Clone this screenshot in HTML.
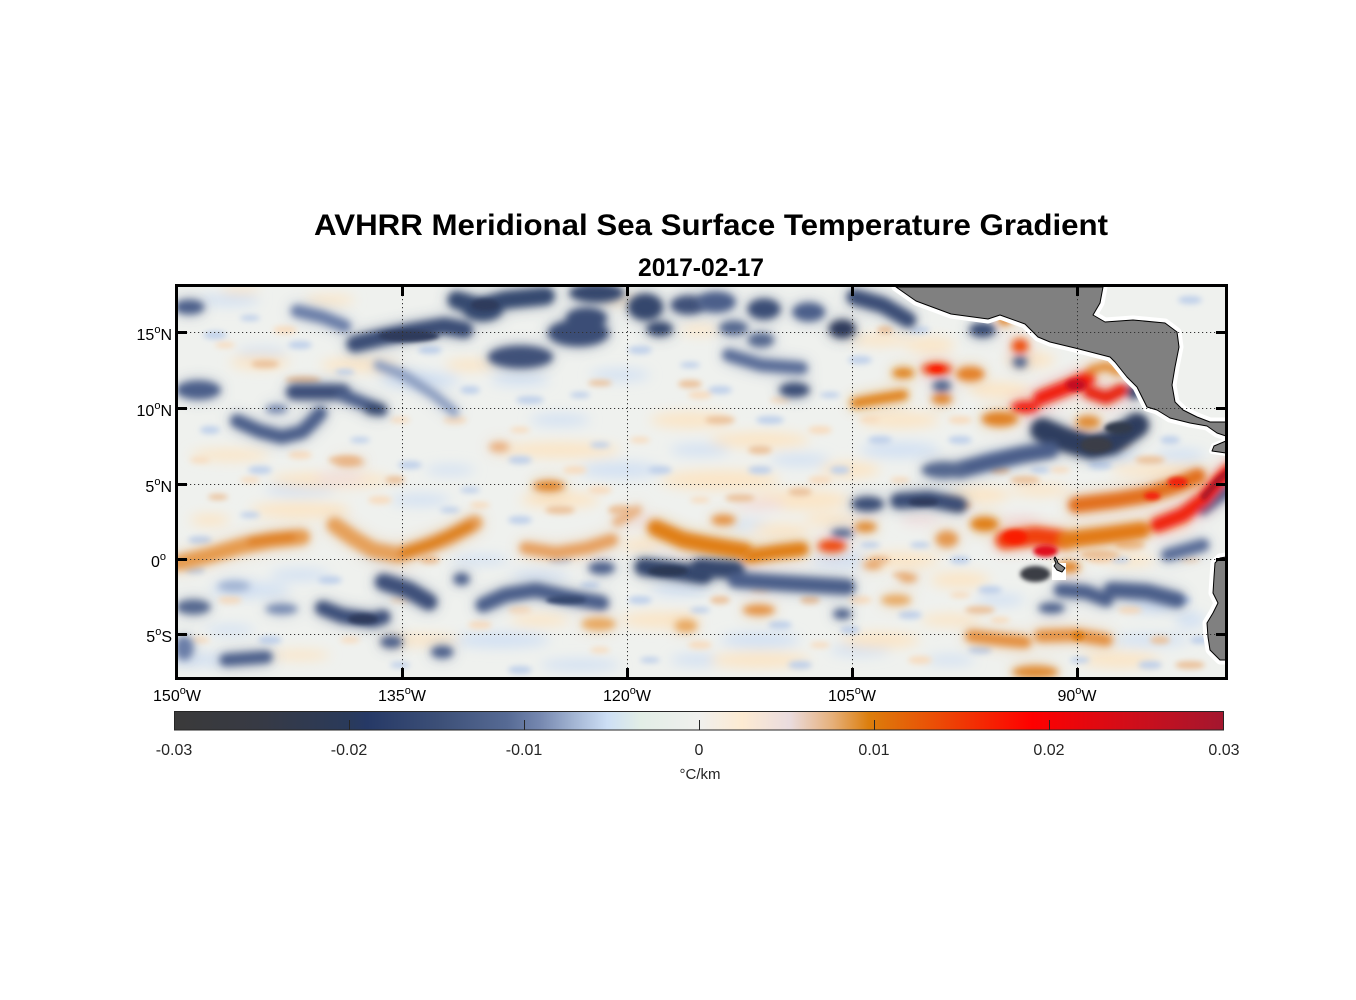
<!DOCTYPE html>
<html><head><meta charset="utf-8">
<style>html,body{margin:0;padding:0;background:#fff;}svg{display:block}</style></head>
<body>
<svg width="1356" height="1000" viewBox="0 0 1356 1000" xmlns="http://www.w3.org/2000/svg" xmlns:xlink="http://www.w3.org/1999/xlink" font-family="'Liberation Sans', Arial, sans-serif">
<defs>
<clipPath id="pc"><rect x="178" y="287" width="1048" height="390"/></clipPath>
<filter id="b9" filterUnits="userSpaceOnUse" x="120" y="240" width="1160" height="500"><feGaussianBlur stdDeviation="8"/></filter>
<filter id="b6" filterUnits="userSpaceOnUse" x="120" y="240" width="1160" height="500"><feGaussianBlur stdDeviation="6"/></filter>
<filter id="b4" filterUnits="userSpaceOnUse" x="120" y="240" width="1160" height="500"><feGaussianBlur stdDeviation="3.8"/></filter>
<filter id="b3" filterUnits="userSpaceOnUse" x="120" y="240" width="1160" height="500"><feGaussianBlur stdDeviation="3"/></filter>
<filter id="b2" filterUnits="userSpaceOnUse" x="120" y="240" width="1160" height="500"><feGaussianBlur stdDeviation="2.2"/></filter>
<linearGradient id="cb" gradientUnits="userSpaceOnUse" x1="174" y1="0" x2="1224" y2="0">
<stop offset="0" stop-color="#3a3a3a"/>
<stop offset="0.079" stop-color="#373a44"/>
<stop offset="0.165" stop-color="#2a3a5a"/>
<stop offset="0.184" stop-color="#263966"/>
<stop offset="0.254" stop-color="#3d5078"/>
<stop offset="0.317" stop-color="#566a94"/>
<stop offset="0.349" stop-color="#7688b0"/>
<stop offset="0.381" stop-color="#a3b5d3"/>
<stop offset="0.413" stop-color="#cddff5"/>
<stop offset="0.444" stop-color="#e2eee6"/>
<stop offset="0.5" stop-color="#f0f0ee"/>
<stop offset="0.541" stop-color="#fdebd2"/>
<stop offset="0.586" stop-color="#eadcdf"/>
<stop offset="0.627" stop-color="#e6b07a"/>
<stop offset="0.662" stop-color="#dc7e0c"/>
<stop offset="0.722" stop-color="#ea5006"/>
<stop offset="0.817" stop-color="#ff0000"/>
<stop offset="0.913" stop-color="#cf0e1a"/>
<stop offset="1" stop-color="#a3172f"/>
</linearGradient>

<!-- LEFT features -->
<g id="gL" transform="matrix(1.016,0,0,1,-2.8,0)" fill="none" stroke-linecap="round" stroke-linejoin="round">
<ellipse cx="189" cy="307" rx="15" ry="7" fill="#4c5f8a"/>
<path d="M295,311 L320,317 L342,326" stroke="#6a7ea8" stroke-width="12"/>
<path d="M352,344 L380,337 L410,331 L440,326 L460,330" stroke="#3b4d76" stroke-width="16"/>
<path d="M452,300 L475,307 L500,300 L540,296" stroke="#36486f" stroke-width="17"/>
<ellipse cx="478" cy="309" rx="20" ry="12" fill="#36486f"/>
<ellipse cx="515" cy="357" rx="32" ry="11" fill="#3f5179"/>
<ellipse cx="572" cy="333" rx="30" ry="13" fill="#3b4d76"/>
<ellipse cx="580" cy="318" rx="20" ry="10" fill="#3b4d76"/>
<ellipse cx="590" cy="293" rx="27" ry="9" fill="#34466d"/>
<ellipse cx="638" cy="307" rx="17" ry="13" fill="#34466d"/>
<ellipse cx="652" cy="329" rx="13" ry="7" fill="#34466d"/>
<ellipse cx="680" cy="305" rx="17" ry="9" fill="#3f5179"/>
<ellipse cx="198" cy="390" rx="22" ry="9" fill="#4c5f8a"/>
<path d="M292,392 L340,392" stroke="#3e5079" stroke-width="15"/>
<path d="M340,395 L365,405 L378,410" stroke="#4c5f8a" stroke-width="12"/>
<ellipse cx="372" cy="409" rx="11" ry="6" fill="#34466d"/>
<path d="M236,421 L258,431 L280,437 L300,432 L310,422 L318,413" stroke="#4c5f8a" stroke-width="13"/>
<ellipse cx="275" cy="409" rx="11" ry="4" fill="#6a7ea8"/>
<path d="M375,365 L400,375 L430,395 L450,412" stroke="#8a9cc0" stroke-width="9"/>
<path d="M380,582 L405,590 L425,602" stroke="#3e5079" stroke-width="16"/>
<path d="M320,608 L340,616 L370,620 L380,617" stroke="#3e5079" stroke-width="14"/>
<ellipse cx="193" cy="607" rx="17" ry="7" fill="#55688f"/>
<path d="M225,660 L265,657" stroke="#4c5f8a" stroke-width="12"/>
<ellipse cx="184" cy="648" rx="9" ry="12" fill="#6a7ea8"/>
<path d="M478,605 L500,595 L530,590 L560,597 L595,603" stroke="#4c5f8a" stroke-width="14"/>
<path d="M636,567 L660,570 L695,575" stroke="#34466d" stroke-width="17"/>
<ellipse cx="595" cy="568" rx="13" ry="6" fill="#4c5f8a"/>
<ellipse cx="457" cy="579" rx="8" ry="6" fill="#4c5f8a"/>
<ellipse cx="388" cy="642" rx="11" ry="6" fill="#4c5f8a"/>
<ellipse cx="438" cy="652" rx="11" ry="6" fill="#4c5f8a"/>
<ellipse cx="280" cy="609" rx="16" ry="5" fill="#7588b0"/>
<ellipse cx="233" cy="586" rx="16" ry="5" fill="#a0b2d2"/>
<path d="M178,563 L210,555 L240,546 L270,540 L300,537" stroke="#e69b50" stroke-width="15"/>
<path d="M250,541 L290,537" stroke="#df8020" stroke-width="9"/>
<path d="M332,525 L350,538 L370,550 L395,555 L420,547 L445,537 L470,523" stroke="#e6a05a" stroke-width="15"/>
<path d="M400,553 L430,543 L465,526" stroke="#dd8018" stroke-width="10"/>
<path d="M520,548 L550,553 L580,548 L605,540" stroke="#e6a060" stroke-width="12"/>
<path d="M610,522 L630,510" stroke="#e8b080" stroke-width="9"/>
<path d="M648,528 L675,540 L700,545 L735,551" stroke="#e07f18" stroke-width="16"/>
<ellipse cx="543" cy="486" rx="16" ry="5" fill="#df8020"/>
<ellipse cx="494" cy="447" rx="10" ry="5" fill="#eab080"/>
<ellipse cx="347" cy="462" rx="15" ry="4" fill="#e8b080"/>
<ellipse cx="592" cy="624" rx="17" ry="6" fill="#e8a860"/>
<ellipse cx="678" cy="626" rx="11" ry="6" fill="#e8a860"/>
</g>
<g id="cL" transform="matrix(1.016,0,0,1,-2.8,0)">
<ellipse cx="360" cy="619" rx="15" ry="5" fill="#2e3b5c"/>
<ellipse cx="405" cy="336" rx="30" ry="6" fill="#2e3b5c"/>
<ellipse cx="660" cy="571" rx="20" ry="5" fill="#2c3753"/>
<ellipse cx="560" cy="600" rx="20" ry="4" fill="#34466d"/>
<ellipse cx="480" cy="305" rx="14" ry="6" fill="#2e3b5c"/>
</g>

<!-- RIGHT features -->
<g id="gR" transform="matrix(1.016,0,0,1,-11.2,0)" fill="none" stroke-linecap="round" stroke-linejoin="round">
<ellipse cx="716" cy="302" rx="19" ry="10" fill="#4c5f8a"/>
<ellipse cx="763" cy="309" rx="16" ry="10" fill="#3b4d76"/>
<ellipse cx="807" cy="312" rx="16" ry="9" fill="#4c5f8a"/>
<path d="M852,297 L880,305 L905,320" stroke="#3b4d76" stroke-width="15"/>
<ellipse cx="840" cy="329" rx="13" ry="9" fill="#2e3b5c"/>
<ellipse cx="733" cy="328" rx="14" ry="7" fill="#55688f"/>
<ellipse cx="760" cy="340" rx="13" ry="7" fill="#55688f"/>
<path d="M728,355 L760,365 L800,368" stroke="#5a6d98" stroke-width="12"/>
<ellipse cx="793" cy="390" rx="15" ry="7" fill="#3b4d76"/>
<ellipse cx="978" cy="330" rx="13" ry="7" fill="#3b4d76"/>
<ellipse cx="938" cy="386" rx="9" ry="6" fill="#55688f"/>
<ellipse cx="1015" cy="362" rx="7" ry="6" fill="#55688f"/>
<path d="M1037,430 L1060,440 L1085,447 L1105,443 L1130,425" stroke="#2f3d5e" stroke-width="23"/>
<path d="M955,470 L985,462 L1015,455 L1045,450" stroke="#4c5f8a" stroke-width="16"/>
<ellipse cx="940" cy="470" rx="22" ry="8" fill="#55688f"/>
<ellipse cx="1127" cy="392" rx="7" ry="7" fill="#34466d"/>
<ellipse cx="865" cy="504" rx="16" ry="7" fill="#3b4d76"/>
<path d="M895,501 L925,499 L955,505" stroke="#3b4d76" stroke-width="15"/>
<ellipse cx="840" cy="533" rx="11" ry="4" fill="#4c5f8a"/>
<path d="M700,568 L735,570" stroke="#34466d" stroke-width="17"/>
<path d="M735,580 L780,583 L845,587" stroke="#4c5f8a" stroke-width="15"/>
<path d="M1055,590 L1080,592 L1100,600" stroke="#4c5f8a" stroke-width="13"/>
<path d="M1105,590 L1140,592 L1170,600" stroke="#4c5f8a" stroke-width="15"/>
<path d="M1160,555 L1195,545" stroke="#5a6d98" stroke-width="12"/>
<path d="M1195,510 L1220,490" stroke="#4c5f8a" stroke-width="10"/>
<ellipse cx="1046" cy="608" rx="13" ry="5" fill="#4c5f8a"/>
<ellipse cx="840" cy="614" rx="9" ry="5" fill="#4c5f8a"/>
<path d="M750,556 L775,552 L800,549" stroke="#e07f18" stroke-width="14"/>
<ellipse cx="830" cy="546" rx="14" ry="6" fill="#ee4a0a"/>
<ellipse cx="723" cy="520" rx="12" ry="5" fill="#e49040"/>
<path d="M853,403 L875,399 L900,395" stroke="#e08018" stroke-width="10"/>
<ellipse cx="900" cy="373" rx="11" ry="5" fill="#e08018"/>
<ellipse cx="933" cy="369" rx="15" ry="6" fill="#f04010"/>
<ellipse cx="966" cy="374" rx="14" ry="7" fill="#e48028"/>
<ellipse cx="938" cy="399" rx="10" ry="5" fill="#e08020"/>
<ellipse cx="1015" cy="346" rx="8" ry="7" fill="#ee5010"/>
<ellipse cx="1000" cy="320" rx="7" ry="5" fill="#e08020"/>
<ellipse cx="995" cy="419" rx="18" ry="7" fill="#e08020"/>
<ellipse cx="1020" cy="407" rx="14" ry="6" fill="#f01a08"/>
<path d="M1035,398 L1060,388 L1082,378" stroke="#f01a08" stroke-width="14"/>
<path d="M1083,392 L1100,398 L1115,390" stroke="#e8200a" stroke-width="12"/>
<path d="M1085,370 L1100,366 L1112,372" stroke="#e28a30" stroke-width="8"/>
<ellipse cx="1082" cy="422" rx="12" ry="6" fill="#e08a30"/>
<path d="M1000,540 L1030,536 L1060,540" stroke="#f04008" stroke-width="18"/>
<path d="M1060,540 L1100,535 L1135,530" stroke="#e27a18" stroke-width="16"/>
<path d="M1070,505 L1110,500 L1140,495 L1170,485 L1190,476" stroke="#e2701a" stroke-width="15"/>
<path d="M1150,525 L1175,515 L1195,500 L1212,480 L1222,470" stroke="#f0200a" stroke-width="14"/>
<ellipse cx="980" cy="524" rx="14" ry="7" fill="#e07f18"/>
<path d="M1035,636 L1070,635 L1100,640" stroke="#e49040" stroke-width="12"/>
<path d="M967,636 L1000,640 L1020,642" stroke="#e49040" stroke-width="12"/>
<ellipse cx="1030" cy="672" rx="23" ry="6" fill="#e08a30"/>
<ellipse cx="758" cy="610" rx="16" ry="5" fill="#e49040"/>
<ellipse cx="893" cy="600" rx="15" ry="5" fill="#e8a860"/>
<ellipse cx="863" cy="527" rx="11" ry="5" fill="#e08a30"/>
<ellipse cx="943" cy="539" rx="11" ry="8" fill="#e49850"/>
<ellipse cx="1063" cy="567" rx="11" ry="5" fill="#e08020"/>
<ellipse cx="870" cy="565" rx="9" ry="4" fill="#e6a060"/>
<ellipse cx="905" cy="578" rx="9" ry="4" fill="#e6a060"/>
</g>
<g id="cR" transform="matrix(1.016,0,0,1,-11.2,0)" fill="none" stroke-linecap="round">
<ellipse cx="1090" cy="445" rx="16" ry="8" fill="#3a3d47"/>
<ellipse cx="1112" cy="428" rx="14" ry="6" fill="#333a4c"/>
<ellipse cx="1030" cy="574" rx="15" ry="8" fill="#3a3c44"/>
<ellipse cx="920" cy="502" rx="15" ry="4" fill="#2e3b5c"/>
<ellipse cx="1070" cy="385" rx="10" ry="6" fill="#c41020"/>
<ellipse cx="1010" cy="537" rx="12" ry="7" fill="#fa1a06"/>
<ellipse cx="1040" cy="551" rx="12" ry="6" fill="#e0101a"/>
<path d="M1196,497 L1210,480 L1220,472" stroke="#a8152c" stroke-width="6"/>
<ellipse cx="1170" cy="482" rx="10" ry="5" fill="#f02008"/>
<ellipse cx="1145" cy="496" rx="8" ry="4" fill="#f42008"/>
<ellipse cx="933" cy="369" rx="7" ry="3" fill="#ff1800"/>
<ellipse cx="1072" cy="636" rx="6" ry="4" fill="#dc7a10"/>
</g>
</defs>

<!-- Titles -->
<text x="314" y="235" font-size="30" font-weight="bold" fill="#000" textLength="794" lengthAdjust="spacingAndGlyphs">AVHRR Meridional Sea Surface Temperature Gradient</text>
<text x="638" y="276" font-size="25" font-weight="bold" fill="#000" textLength="126" lengthAdjust="spacingAndGlyphs">2017-02-17</text>

<!-- Map -->
<g clip-path="url(#pc)">
<rect x="178" y="287" width="1048" height="390" fill="#eff1ee"/>

<!-- haze -->
<g filter="url(#b6)">
<g fill="#d3e1f3">
<ellipse cx="230" cy="300" rx="30" ry="6"/><ellipse cx="262" cy="352" rx="25" ry="5"/><ellipse cx="420" cy="380" rx="40" ry="8"/><ellipse cx="560" cy="420" rx="30" ry="6"/><ellipse cx="620" cy="470" rx="40" ry="8"/><ellipse cx="300" cy="490" rx="35" ry="6"/><ellipse cx="450" cy="470" rx="25" ry="5"/><ellipse cx="700" cy="450" rx="30" ry="6"/><ellipse cx="250" cy="590" rx="40" ry="8"/><ellipse cx="500" cy="640" rx="50" ry="8"/><ellipse cx="760" cy="640" rx="40" ry="8"/><ellipse cx="850" cy="560" rx="40" ry="8"/><ellipse cx="900" cy="450" rx="40" ry="8"/><ellipse cx="1150" cy="640" rx="40" ry="6"/><ellipse cx="200" cy="660" rx="30" ry="6"/><ellipse cx="580" cy="665" rx="40" ry="6"/><ellipse cx="420" cy="500" rx="30" ry="6"/><ellipse cx="680" cy="590" rx="30" ry="6"/><ellipse cx="300" cy="575" rx="30" ry="6"/><ellipse cx="380" cy="555" rx="20" ry="5"/><ellipse cx="230" cy="630" rx="25" ry="5"/><ellipse cx="480" cy="560" rx="30" ry="5"/><ellipse cx="540" cy="575" rx="30" ry="5"/><ellipse cx="750" cy="525" rx="20" ry="5"/><ellipse cx="620" cy="375" rx="30" ry="6"/><ellipse cx="520" cy="380" rx="30" ry="6"/><ellipse cx="800" cy="460" rx="30" ry="6"/><ellipse cx="960" cy="300" rx="15" ry="5"/><ellipse cx="1000" cy="460" rx="20" ry="6"/><ellipse cx="1110" cy="455" rx="30" ry="6"/><ellipse cx="1180" cy="455" rx="25" ry="6"/><ellipse cx="1150" cy="605" rx="25" ry="8"/><ellipse cx="1190" cy="620" rx="15" ry="8"/><ellipse cx="1000" cy="600" rx="25" ry="6"/><ellipse cx="950" cy="660" rx="25" ry="5"/><ellipse cx="860" cy="650" rx="30" ry="6"/><ellipse cx="700" cy="660" rx="30" ry="6"/>
</g>
<g fill="#fbe5c6">
<ellipse cx="240" cy="290" rx="20" ry="4"/><ellipse cx="330" cy="300" rx="25" ry="5"/><ellipse cx="260" cy="362" rx="30" ry="7"/><ellipse cx="360" cy="365" rx="40" ry="7"/><ellipse cx="470" cy="365" rx="25" ry="6"/><ellipse cx="230" cy="455" rx="40" ry="6"/><ellipse cx="330" cy="480" rx="60" ry="8"/><ellipse cx="560" cy="450" rx="60" ry="8"/><ellipse cx="690" cy="420" rx="40" ry="8"/><ellipse cx="760" cy="440" rx="50" ry="8"/><ellipse cx="720" cy="480" rx="60" ry="10"/><ellipse cx="800" cy="500" rx="50" ry="10"/><ellipse cx="900" cy="420" rx="40" ry="8"/><ellipse cx="560" cy="500" rx="40" ry="8"/><ellipse cx="300" cy="510" rx="50" ry="8"/><ellipse cx="210" cy="520" rx="20" ry="6"/><ellipse cx="420" cy="640" rx="40" ry="6"/><ellipse cx="540" cy="620" rx="30" ry="6"/><ellipse cx="660" cy="620" rx="40" ry="8"/><ellipse cx="760" cy="660" rx="50" ry="8"/><ellipse cx="880" cy="640" rx="40" ry="8"/><ellipse cx="950" cy="620" rx="30" ry="6"/><ellipse cx="1120" cy="660" rx="40" ry="8"/><ellipse cx="1150" cy="470" rx="40" ry="6"/><ellipse cx="960" cy="580" rx="30" ry="8"/><ellipse cx="900" cy="560" rx="40" ry="8"/><ellipse cx="300" cy="655" rx="30" ry="5"/><ellipse cx="850" cy="470" rx="30" ry="8"/><ellipse cx="620" cy="300" rx="20" ry="5"/><ellipse cx="700" cy="330" rx="20" ry="5"/><ellipse cx="880" cy="340" rx="30" ry="6"/><ellipse cx="930" cy="345" rx="25" ry="8"/><ellipse cx="1030" cy="360" rx="25" ry="8"/><ellipse cx="1000" cy="390" rx="30" ry="8"/><ellipse cx="1130" cy="560" rx="25" ry="6"/><ellipse cx="1170" cy="525" rx="20" ry="6"/><ellipse cx="980" cy="495" rx="30" ry="8"/><ellipse cx="1040" cy="490" rx="30" ry="6"/><ellipse cx="830" cy="520" rx="25" ry="6"/><ellipse cx="780" cy="530" rx="30" ry="6"/><ellipse cx="640" cy="545" rx="20" ry="6"/>
</g>
<g fill="#f0dcdc">
<ellipse cx="340" cy="478" rx="25" ry="5"/><ellipse cx="760" cy="505" rx="25" ry="5"/><ellipse cx="920" cy="520" rx="20" ry="5"/><ellipse cx="1020" cy="520" rx="20" ry="5"/><ellipse cx="640" cy="520" rx="20" ry="4"/>
</g>
</g>

<!-- speckles -->
<g filter="url(#b3)">
<g fill="#bfd0ea">
<ellipse cx="215" cy="335" rx="12" ry="4"/><ellipse cx="250" cy="318" rx="10" ry="3"/><ellipse cx="300" cy="345" rx="12" ry="4"/><ellipse cx="345" cy="372" rx="10" ry="3"/><ellipse cx="430" cy="350" rx="12" ry="4"/><ellipse cx="470" cy="390" rx="10" ry="4"/><ellipse cx="530" cy="400" rx="14" ry="4"/><ellipse cx="580" cy="395" rx="10" ry="3"/><ellipse cx="640" cy="350" rx="12" ry="4"/><ellipse cx="690" cy="365" rx="10" ry="3"/><ellipse cx="720" cy="390" rx="12" ry="4"/><ellipse cx="770" cy="420" rx="14" ry="4"/><ellipse cx="830" cy="395" rx="10" ry="3"/><ellipse cx="880" cy="440" rx="12" ry="4"/><ellipse cx="840" cy="470" rx="10" ry="4"/><ellipse cx="760" cy="470" rx="12" ry="4"/><ellipse cx="660" cy="470" rx="12" ry="4"/><ellipse cx="600" cy="445" rx="10" ry="3"/><ellipse cx="520" cy="460" rx="12" ry="4"/><ellipse cx="470" cy="490" rx="10" ry="3"/><ellipse cx="410" cy="465" rx="12" ry="4"/><ellipse cx="360" cy="440" rx="10" ry="3"/><ellipse cx="260" cy="470" rx="12" ry="4"/><ellipse cx="210" cy="430" rx="10" ry="4"/><ellipse cx="200" cy="540" rx="12" ry="4"/><ellipse cx="250" cy="515" rx="10" ry="3"/><ellipse cx="330" cy="580" rx="12" ry="4"/><ellipse cx="450" cy="510" rx="10" ry="3"/><ellipse cx="520" cy="520" rx="12" ry="4"/><ellipse cx="590" cy="585" rx="10" ry="3"/><ellipse cx="640" cy="600" rx="12" ry="4"/><ellipse cx="700" cy="610" rx="10" ry="3"/><ellipse cx="780" cy="625" rx="12" ry="4"/><ellipse cx="850" cy="630" rx="10" ry="4"/><ellipse cx="910" cy="615" rx="12" ry="4"/><ellipse cx="960" cy="560" rx="10" ry="4"/><ellipse cx="990" cy="590" rx="12" ry="4"/><ellipse cx="1120" cy="560" rx="10" ry="3"/><ellipse cx="1180" cy="600" rx="12" ry="4"/><ellipse cx="1200" cy="640" rx="10" ry="4"/><ellipse cx="1150" cy="665" rx="12" ry="4"/><ellipse cx="1080" cy="660" rx="10" ry="3"/><ellipse cx="980" cy="650" rx="12" ry="4"/><ellipse cx="800" cy="665" rx="12" ry="4"/><ellipse cx="650" cy="660" rx="10" ry="3"/><ellipse cx="520" cy="670" rx="12" ry="4"/><ellipse cx="400" cy="665" rx="10" ry="3"/><ellipse cx="270" cy="640" rx="12" ry="4"/><ellipse cx="195" cy="570" rx="10" ry="4"/><ellipse cx="560" cy="560" rx="12" ry="4"/><ellipse cx="870" cy="545" rx="10" ry="3"/><ellipse cx="920" cy="545" rx="10" ry="3"/><ellipse cx="1100" cy="465" rx="12" ry="4"/><ellipse cx="1170" cy="440" rx="10" ry="4"/><ellipse cx="1040" cy="470" rx="10" ry="3"/><ellipse cx="960" cy="440" rx="12" ry="4"/><ellipse cx="920" cy="330" rx="10" ry="3"/><ellipse cx="860" cy="360" rx="12" ry="4"/><ellipse cx="1190" cy="300" rx="12" ry="4"/>
</g>
<g fill="#f7dcbf">
<ellipse cx="225" cy="345" rx="10" ry="3"/><ellipse cx="285" cy="330" rx="12" ry="4"/><ellipse cx="400" cy="420" rx="10" ry="3"/><ellipse cx="455" cy="420" rx="12" ry="4"/><ellipse cx="520" cy="430" rx="10" ry="3"/><ellipse cx="575" cy="470" rx="12" ry="4"/><ellipse cx="640" cy="440" rx="10" ry="3"/><ellipse cx="700" cy="395" rx="12" ry="4"/><ellipse cx="780" cy="400" rx="10" ry="3"/><ellipse cx="820" cy="430" rx="12" ry="4"/><ellipse cx="870" cy="420" rx="10" ry="3"/><ellipse cx="960" cy="420" rx="12" ry="4"/><ellipse cx="250" cy="480" rx="10" ry="3"/><ellipse cx="300" cy="455" rx="12" ry="4"/><ellipse cx="200" cy="460" rx="10" ry="3"/><ellipse cx="380" cy="500" rx="12" ry="4"/><ellipse cx="480" cy="505" rx="10" ry="3"/><ellipse cx="600" cy="490" rx="12" ry="4"/><ellipse cx="700" cy="500" rx="10" ry="3"/><ellipse cx="820" cy="480" rx="12" ry="4"/><ellipse cx="900" cy="480" rx="10" ry="3"/><ellipse cx="950" cy="500" rx="12" ry="4"/><ellipse cx="1060" cy="470" rx="10" ry="3"/><ellipse cx="1120" cy="445" rx="10" ry="3"/><ellipse cx="1190" cy="560" rx="10" ry="3"/><ellipse cx="1130" cy="610" rx="12" ry="4"/><ellipse cx="1000" cy="620" rx="10" ry="3"/><ellipse cx="920" cy="660" rx="12" ry="4"/><ellipse cx="820" cy="645" rx="10" ry="3"/><ellipse cx="700" cy="645" rx="12" ry="4"/><ellipse cx="600" cy="650" rx="10" ry="3"/><ellipse cx="480" cy="625" rx="12" ry="4"/><ellipse cx="350" cy="640" rx="10" ry="3"/><ellipse cx="230" cy="600" rx="12" ry="4"/><ellipse cx="200" cy="640" rx="10" ry="3"/><ellipse cx="400" cy="600" rx="10" ry="3"/><ellipse cx="520" cy="610" rx="12" ry="4"/><ellipse cx="760" cy="590" rx="10" ry="3"/><ellipse cx="860" cy="600" rx="12" ry="4"/><ellipse cx="1180" cy="520" rx="10" ry="3"/><ellipse cx="1100" cy="560" rx="12" ry="4"/><ellipse cx="960" cy="595" rx="10" ry="3"/>
</g>
</g>

<!-- tan mid -->
<g filter="url(#b3)" fill="#ebc29c">
<ellipse cx="265" cy="364" rx="14" ry="4"/><ellipse cx="303" cy="380" rx="18" ry="4"/><ellipse cx="344" cy="460" rx="16" ry="4"/><ellipse cx="430" cy="560" rx="10" ry="4"/><ellipse cx="218" cy="497" rx="10" ry="3"/><ellipse cx="395" cy="480" rx="10" ry="4"/><ellipse cx="560" cy="510" rx="15" ry="4"/><ellipse cx="620" cy="510" rx="12" ry="5"/><ellipse cx="720" cy="420" rx="15" ry="4"/><ellipse cx="760" cy="450" rx="12" ry="4"/><ellipse cx="740" cy="498" rx="15" ry="4"/><ellipse cx="800" cy="492" rx="12" ry="4"/><ellipse cx="885" cy="330" rx="8" ry="4"/><ellipse cx="690" cy="384" rx="12" ry="4"/><ellipse cx="600" cy="383" rx="12" ry="3"/><ellipse cx="1130" cy="545" rx="15" ry="5"/><ellipse cx="1100" cy="555" rx="20" ry="5"/><ellipse cx="1150" cy="460" rx="15" ry="4"/><ellipse cx="960" cy="505" rx="12" ry="4"/><ellipse cx="1000" cy="470" rx="10" ry="4"/><ellipse cx="1025" cy="480" rx="15" ry="4"/><ellipse cx="880" cy="560" rx="10" ry="4"/><ellipse cx="900" cy="575" rx="8" ry="3"/><ellipse cx="980" cy="610" rx="15" ry="4"/><ellipse cx="1160" cy="640" rx="10" ry="4"/><ellipse cx="1190" cy="665" rx="15" ry="4"/><ellipse cx="720" cy="600" rx="10" ry="4"/><ellipse cx="810" cy="600" rx="10" ry="4"/>
</g>

<!-- features: halo + body + cores -->
<use xlink:href="#gL" href="#gL" filter="url(#b9)" opacity="0.45"/>
<use xlink:href="#gR" href="#gR" filter="url(#b9)" opacity="0.45"/>
<use xlink:href="#gL" href="#gL" filter="url(#b4)"/>
<use xlink:href="#gR" href="#gR" filter="url(#b4)"/>
<use xlink:href="#cL" href="#cL" filter="url(#b2)"/>
<use xlink:href="#cR" href="#cR" filter="url(#b2)"/>

<!-- Land -->
<g stroke-linejoin="round">
<path d="M896,287 L916,301 L951,314 L988,319 L1000,315 L1025,324 L1038,337 L1050,342 L1075,348 L1110,357 L1115,362 L1127,377 L1137,387 L1147,407 L1157,410 L1170,418 L1190,423 L1207,426 L1217,433 L1226,436 L1226,422 L1210,422 L1197,417 L1183,410 L1175,402 L1172,385 L1175,367 L1179,347 L1177,332 L1165,323 L1133,320 L1105,322 L1093,315 L1100,303 L1103,287 Z" fill="none" stroke="#fff" stroke-width="9"/>
<path d="M1214,446 L1226,441 L1226,453 L1212,451 Z" fill="none" stroke="#fff" stroke-width="6"/>
<path d="M1226,557 L1220,558 L1215,563 L1214,577 L1213,593 L1218,603 L1213,613 L1207,623 L1208,637 L1210,650 L1220,660 L1226,660 Z" fill="none" stroke="#fff" stroke-width="9"/>
<rect x="1052" y="563" width="14" height="17" fill="#fff"/>
<path d="M896,287 L916,301 L951,314 L988,319 L1000,315 L1025,324 L1038,337 L1050,342 L1075,348 L1110,357 L1115,362 L1127,377 L1137,387 L1147,407 L1157,410 L1170,418 L1190,423 L1207,426 L1217,433 L1226,436 L1226,422 L1210,422 L1197,417 L1183,410 L1175,402 L1172,385 L1175,367 L1179,347 L1177,332 L1165,323 L1133,320 L1105,322 L1093,315 L1100,303 L1103,287 Z" fill="#808080" stroke="#000" stroke-width="1"/>
<path d="M1214,446 L1226,441 L1226,453 L1212,451 Z" fill="#808080" stroke="#000" stroke-width="1"/>
<path d="M1226,557 L1220,558 L1215,563 L1214,577 L1213,593 L1218,603 L1213,613 L1207,623 L1208,637 L1210,650 L1220,660 L1226,660 Z" fill="#808080" stroke="#000" stroke-width="1"/>
<path d="M1055,557 L1057,560 L1058,563 L1065,568 L1062,572 L1057,570 L1054,566 L1056,563 L1054,559 Z" fill="#808080" stroke="#000" stroke-width="1"/>
</g>

<!-- gridlines -->
<g stroke="#333" stroke-width="1" stroke-dasharray="1.2 2.8">
<line x1="178" y1="332.5" x2="1226" y2="332.5"/>
<line x1="178" y1="408.5" x2="1226" y2="408.5"/>
<line x1="178" y1="484.5" x2="1226" y2="484.5"/>
<line x1="178" y1="559.5" x2="1226" y2="559.5"/>
<line x1="178" y1="634.5" x2="1226" y2="634.5"/>
<line x1="402.5" y1="287" x2="402.5" y2="677"/>
<line x1="627.5" y1="287" x2="627.5" y2="677"/>
<line x1="852.5" y1="287" x2="852.5" y2="677"/>
<line x1="1077.5" y1="287" x2="1077.5" y2="677"/>
</g>
</g>

<!-- frame -->
<rect x="176.5" y="285.5" width="1050" height="393" fill="none" stroke="#000" stroke-width="3"/>
<g stroke="#000" stroke-width="3">
<line x1="175" y1="332.5" x2="187" y2="332.5"/><line x1="1216" y1="332.5" x2="1228" y2="332.5"/>
<line x1="175" y1="408.5" x2="187" y2="408.5"/><line x1="1216" y1="408.5" x2="1228" y2="408.5"/>
<line x1="175" y1="484.5" x2="187" y2="484.5"/><line x1="1216" y1="484.5" x2="1228" y2="484.5"/>
<line x1="175" y1="559.5" x2="187" y2="559.5"/><line x1="1216" y1="559.5" x2="1228" y2="559.5"/>
<line x1="175" y1="634.5" x2="187" y2="634.5"/><line x1="1216" y1="634.5" x2="1228" y2="634.5"/>
<line x1="402.5" y1="284" x2="402.5" y2="296"/><line x1="402.5" y1="668" x2="402.5" y2="680"/>
<line x1="627.5" y1="284" x2="627.5" y2="296"/><line x1="627.5" y1="668" x2="627.5" y2="680"/>
<line x1="852.5" y1="284" x2="852.5" y2="296"/><line x1="852.5" y1="668" x2="852.5" y2="680"/>
<line x1="1077.5" y1="284" x2="1077.5" y2="296"/><line x1="1077.5" y1="668" x2="1077.5" y2="680"/>
</g>

<!-- axis labels -->
<g font-size="16" fill="#000" text-anchor="end">
<text x="172" y="340">15<tspan font-size="11" dy="-7">o</tspan><tspan dy="7">N</tspan></text>
<text x="172" y="416">10<tspan font-size="11" dy="-7">o</tspan><tspan dy="7">N</tspan></text>
<text x="172" y="492">5<tspan font-size="11" dy="-7">o</tspan><tspan dy="7">N</tspan></text>
<text x="166" y="567">0<tspan font-size="11" dy="-7">o</tspan></text>
<text x="172" y="642">5<tspan font-size="11" dy="-7">o</tspan><tspan dy="7">S</tspan></text>
</g>
<g font-size="16" fill="#000" text-anchor="middle">
<text x="177" y="701">150<tspan font-size="11" dy="-7">o</tspan><tspan dy="7">W</tspan></text>
<text x="402" y="701">135<tspan font-size="11" dy="-7">o</tspan><tspan dy="7">W</tspan></text>
<text x="627" y="701">120<tspan font-size="11" dy="-7">o</tspan><tspan dy="7">W</tspan></text>
<text x="852" y="701">105<tspan font-size="11" dy="-7">o</tspan><tspan dy="7">W</tspan></text>
<text x="1077" y="701">90<tspan font-size="11" dy="-7">o</tspan><tspan dy="7">W</tspan></text>
</g>

<!-- colorbar -->
<rect x="174.5" y="711.5" width="1049" height="18.5" fill="url(#cb)" stroke="#262626" stroke-width="1"/>
<g stroke="#262626" stroke-width="1">
<line x1="349.5" y1="720" x2="349.5" y2="730"/>
<line x1="524.5" y1="720" x2="524.5" y2="730"/>
<line x1="699.5" y1="720" x2="699.5" y2="730"/>
<line x1="874.5" y1="720" x2="874.5" y2="730"/>
<line x1="1049.5" y1="720" x2="1049.5" y2="730"/>
</g>
<g font-size="16" fill="#262626" text-anchor="middle">
<text x="174" y="755">-0.03</text>
<text x="349" y="755">-0.02</text>
<text x="524" y="755">-0.01</text>
<text x="699" y="755">0</text>
<text x="874" y="755">0.01</text>
<text x="1049" y="755">0.02</text>
<text x="1224" y="755">0.03</text>
<text x="700" y="779" font-size="15">°C/km</text>
</g>
</svg>
</body></html>
